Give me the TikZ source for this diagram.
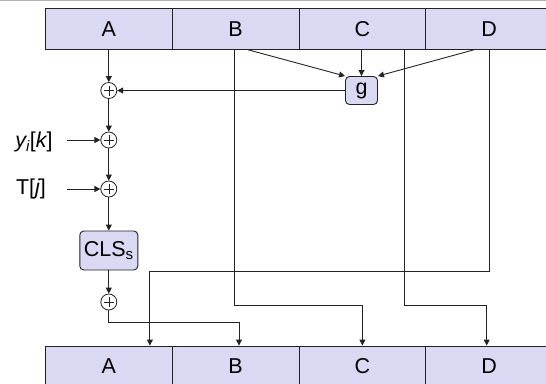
\documentclass[tikz,border=0pt]{standalone}
\usepackage{fontspec}
\setmainfont{Liberation Sans}
\usetikzlibrary{arrows.meta}
\definecolor{regfill}{RGB}{217,217,243}
\definecolor{ln}{RGB}{35,35,35}
\begin{document}
\begin{tikzpicture}[x=1pt,y=-1pt, font=\fontsize{21.5}{25}\selectfont,
  cell/.style={draw=ln, fill=regfill, minimum width=126.75pt, minimum height=41pt, inner sep=0pt, line width=0.9pt},
  xor/.style={circle, draw=ln, fill=white, minimum size=16pt, inner sep=0pt, line width=0.8pt,
    path picture={\draw[ln,line width=0.6pt]
      ([xshift=-5pt]path picture bounding box.center) -- ([xshift=5pt]path picture bounding box.center)
      ([yshift=-5pt]path picture bounding box.center) -- ([yshift=5pt]path picture bounding box.center);}},
  func/.style={draw=ln, fill=regfill, rounded corners=4pt, inner sep=0pt, line width=0.9pt},
  conn/.style={draw=ln, line width=0.9pt},
  arr/.style={conn, -{Triangle[length=6pt,width=6pt]}}]
\useasboundingbox (0,0) rectangle (546,383);
\fill[gray!60] (0,0) rectangle (546,1.3);
% registers
\node[cell] (tA) at (108.9,28.8) {A};
\node[cell] (tB) at (235.6,28.8) {B};
\node[cell] (tC) at (362.4,28.8) {C};
\node[cell] (tD) at (489.1,28.8) {D};
\node[cell] (bA) at (108.9,366.5) {A};
\node[cell] (bB) at (235.6,366.5) {B};
\node[cell] (bC) at (362.4,366.5) {C};
\node[cell] (bD) at (489.1,366.5) {D};
% operators
\node[xor] (x1) at (108.8,90.5) {};
\node[xor] (x2) at (108.8,140) {};
\node[xor] (x3) at (108.8,189) {};
\node[func, minimum width=58pt, minimum height=39pt] (cls) at (108.8,250.5) {CLS\textsubscript{s}};
\node[xor] (x4) at (108.8,302) {};
\node[func, minimum width=32pt, minimum height=28pt] (g) at (361.5,90.5) {g};
% inputs
\node (yl) at (34,142) {\itshape y\textsubscript{i}\upshape[\itshape k\upshape]};
\node (tl) at (31,189) {T[\itshape j\upshape]};
\coordinate (yin) at (67,140);
\coordinate (tin) at (67,189);
\coordinate (rowD) at (0,271);
\coordinate (rowB) at (0,305);
\coordinate (rowA) at (0,322);
% connectors
\draw[arr] (x1 |- tA.south) -- (x1);
\draw[arr] (x1) -- (x2);
\draw[arr] (x2) -- (x3);
\draw[arr] (x3) -- (cls);
\draw[arr] (cls) -- (x4);
\draw[arr] (yin) -- (x2);
\draw[arr] (tin) -- (x3);
\draw[arr] (g) -- (x1);
\draw[arr] ([xshift=12.4pt]tB.south) -- (g.north west);
\draw[arr] (g.north |- tC.south) -- (g.north);
\draw[arr] ([xshift=-15pt]tD.south) -- (g.north east);
\draw[arr] ([xshift=-1.3pt]tB.south) -- ([xshift=-1.3pt]tB.south |- rowB) -| (bC.north);
\draw[arr] ([xshift=41.6pt]tC.south) -- ([xshift=41.6pt]tC.south |- rowB) -| ([xshift=-2.4pt]bD.north);
\draw[arr] (tD.south) -- (tD.south |- rowD) -| ([xshift=41pt]bA.north);
\draw[arr] (x4) -- (x4 |- rowA) -| ([xshift=3.4pt]bB.north);
\end{tikzpicture}
\end{document}
